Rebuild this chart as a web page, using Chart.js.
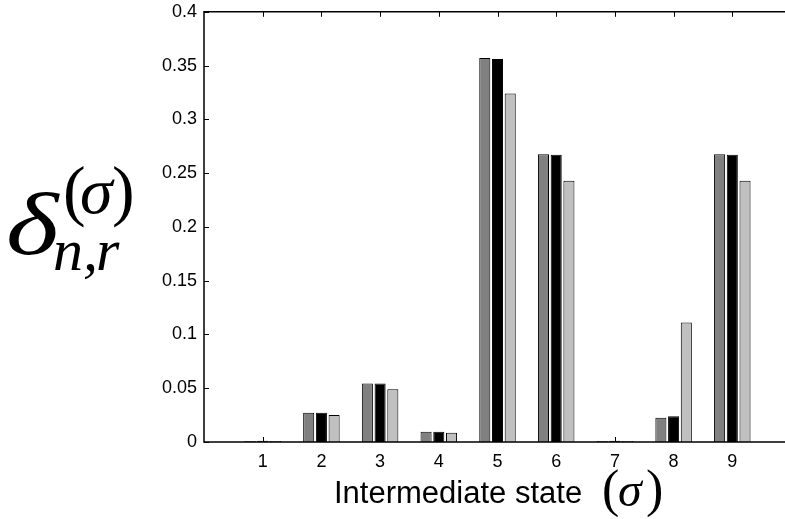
<!DOCTYPE html>
<html lang="en">
<head>
    <meta charset="UTF-8">
    <title>Intermediate state</title>
    <script src="https://cdn.jsdelivr.net/npm/chart.js@4.4.0/dist/chart.umd.min.js"></script>
    <style>
        html, body { margin: 0; padding: 0; overflow: hidden; background: #fff; }
        #wrap { position: relative; width: 785px; height: 519px; overflow: hidden; }
        #grafica { position: absolute; left: 0; top: -6px; }
    </style>
</head>
<body>
    <div id="wrap">
        <canvas id="grafica" width="800" height="525"></canvas>
    </div>
    <script>

        // estados intermedios 1..9
        const categories = ['1', '2', '3', '4', '5', '6', '7', '8', '9'];
        const serieA = [0.001, 0.0271, 0.0543, 0.0096, 0.357, 0.2676, 0.001, 0.0225, 0.2676];
        const serieB = [0.0012, 0.0271, 0.0543, 0.0096, 0.356, 0.267, 0.0012, 0.024, 0.267];
        const serieC = [0.001, 0.025, 0.049, 0.0086, 0.324, 0.243, 0.001, 0.111, 0.243];
        const yTicks = [0, 0.05, 0.1, 0.15, 0.2, 0.25, 0.3, 0.35, 0.4];

        // huecos vacios a cada lado para que el eje vaya de 0 a 10
        const labels = ['', ...categories, ''];
        const pad = arr => [null, ...arr, null];

        const sans = '"Liberation Sans", Arial, Helvetica, sans-serif';
        const serif = '"Liberation Serif", "Times New Roman", serif';

        // ejes izquierdo, superior e inferior con marcas hacia dentro
        // (el borde derecho queda fuera del lienzo visible)
        const marco = {
            id: 'marco',
            afterDatasetsDraw(chart) {
                const {ctx, chartArea: a, scales} = chart;
                const len = 5;
                ctx.save();
                ctx.strokeStyle = '#000';
                ctx.lineWidth = 1.5;
                ctx.beginPath();
                ctx.moveTo(a.right, a.top);
                ctx.lineTo(a.left, a.top);
                ctx.lineTo(a.left, a.bottom);
                ctx.lineTo(a.right, a.bottom);
                ctx.stroke();
                ctx.lineWidth = 1;
                ctx.beginPath();
                categories.forEach((c, i) => {
                    const x = Math.round(scales.x.getPixelForValue(i + 1)) + 0.5;
                    ctx.moveTo(x, a.bottom); ctx.lineTo(x, a.bottom - len);
                    ctx.moveTo(x, a.top); ctx.lineTo(x, a.top + len);
                });
                yTicks.forEach(v => {
                    const y = Math.round(scales.y.getPixelForValue(v)) + 0.5;
                    ctx.moveTo(a.left, y); ctx.lineTo(a.left + len, y);
                    ctx.moveTo(a.right, y); ctx.lineTo(a.right - len, y);
                });
                ctx.stroke();
                ctx.restore();
            }
        };

        // titulos de los ejes con sigma, sub y superindices
        // (coordenadas del lienzo, que esta 6px mas arriba que la pagina)
        const titulos = {
            id: 'titulos',
            afterDraw(chart) {
                const ctx = chart.ctx;
                ctx.save();
                ctx.translate(0, 6);
                ctx.fillStyle = '#000';
                ctx.textBaseline = 'alphabetic';
                ctx.textAlign = 'left';

                ctx.font = '31px ' + sans;
                ctx.fillText('Intermediate state', 334, 503);
                ctx.font = '52px ' + serif;
                ctx.fillText('(', 602, 506);
                ctx.fillText(')', 646, 506);
                ctx.font = 'italic 48px ' + serif;
                ctx.fillText('\u03c3', 618, 506);

                // delta ensanchada
                ctx.save();
                ctx.translate(6, 254);
                ctx.scale(1.28, 1);
                ctx.font = 'italic 88px ' + serif;
                ctx.fillText('\u03b4', 0, 0);
                ctx.restore();

                ctx.font = '68px ' + serif;
                ctx.fillText('(', 63, 213);
                ctx.fillText(')', 112, 213);
                ctx.font = 'italic 66px ' + serif;
                ctx.fillText('\u03c3', 80, 213);
                ctx.font = 'italic 60px ' + serif;
                ctx.fillText('n', 53, 270);
                ctx.fillText(',', 83, 270);
                ctx.fillText('r', 96, 270);
                ctx.restore();
            }
        };

        const ctx = document.getElementById('grafica').getContext('2d');
        const myChart = new Chart(ctx, {
            type: 'bar',
            data: {
                labels: labels,
                datasets: [
                    { data: pad(serieA), backgroundColor: 'rgb(128, 128, 128)' },
                    { data: pad(serieB), backgroundColor: 'rgb(0, 0, 0)' },
                    { data: pad(serieC), backgroundColor: 'rgb(192, 192, 192)' }
                ].map(d => Object.assign(d, {
                    borderColor: '#000',
                    borderWidth: 1,
                    categoryPercentage: 0.65,
                    barPercentage: 0.87,
                    skipNull: false
                }))
            },
            options: {
                responsive: false,
                devicePixelRatio: 1,
                animation: false,
                layout: { padding: { left: 0, top: 4, right: 4, bottom: 0 } },
                plugins: { legend: { display: false }, tooltip: { enabled: false } },
                scales: {
                    x: {
                        offset: false,
                        grid: { display: false, drawTicks: false },
                        border: { display: false },
                        ticks: {
                            autoSkip: false, maxRotation: 0, padding: 9,
                            color: '#000', font: { family: sans, size: 18 }
                        },
                        afterFit: s => { s.height = 77; }
                    },
                    y: {
                        min: 0, max: 0.4,
                        grid: { display: false, drawTicks: false },
                        border: { display: false },
                        afterBuildTicks: s => { s.ticks = yTicks.map(v => ({ value: v })); },
                        ticks: {
                            padding: 7, color: '#000',
                            font: { family: sans, size: 18 },
                            callback: v => String(+v.toFixed(2))
                        },
                        afterFit: s => { s.width = 204; }
                    }
                }
            },
            plugins: [marco, titulos]
        });
    </script>
</body>
</html>
